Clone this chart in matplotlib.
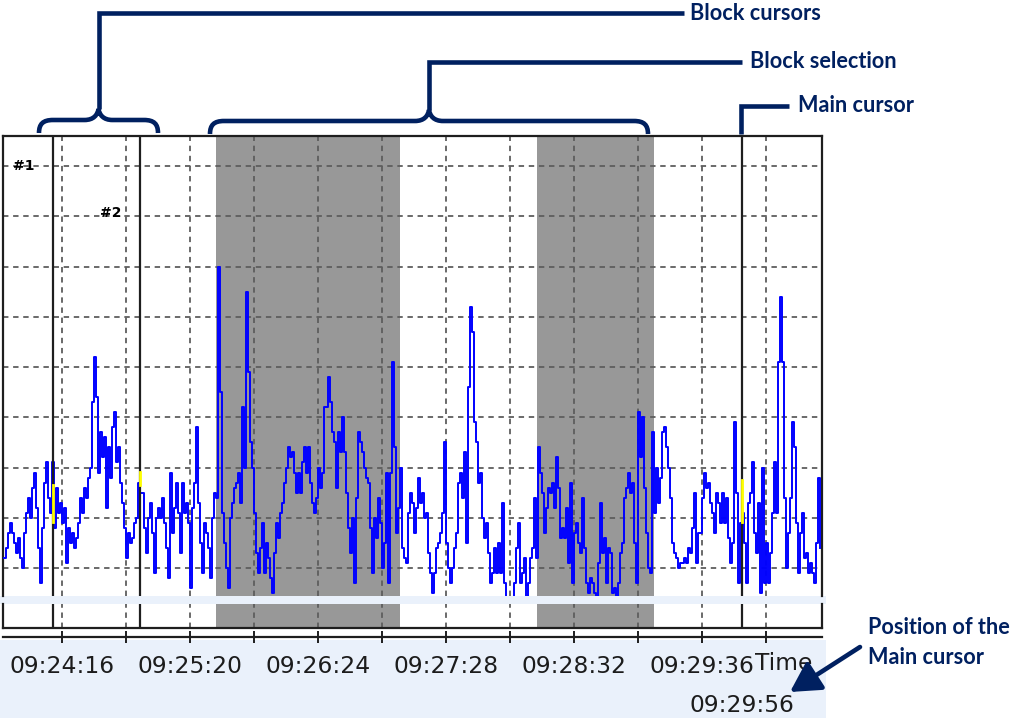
import matplotlib.pyplot as plt
import numpy as np
from matplotlib.patches import PathPatch, Rectangle
from matplotlib.path import Path
from matplotlib.transforms import blended_transform_factory


def hms(text):
    h, m, s = (float(p) for p in text.split(":"))
    return h * 3600 + m * 60 + s


def clock(seconds):
    seconds = int(round(seconds))
    return f"{seconds // 3600:02d}:{seconds % 3600 // 60:02d}:{seconds % 60:02d}"


# one sample per second
start_time = "09:23:47"
signal = [
    8, 10, 13, 15, 13, 11, 9, 12, 8, 6, 13, 17, 20, 16, 22, 25, 18, 10, 3, 14,
    23, 27, 20, 17, 27,
    14, 22, 17, 19, 15, 18, 7, 14, 11, 13, 10, 12, 15, 20, 17, 22, 20, 24, 26, 39,
    48, 40, 25, 33, 28, 32, 18, 30, 24, 34, 37, 27, 30, 23, 19, 14, 8, 13, 11, 12,
    15, 16, 23, 21,
    21, 14, 9, 16, 19, 13, 5, 16, 18, 16, 20, 15, 10, 4, 25, 13, 18, 23, 17, 9,
    23, 17, 19, 15, 2, 18, 23, 34, 19, 11, 5, 15, 13, 10, 4, 16, 21,
    20, 66, 41, 17, 11, 6, 2, 16, 19, 22, 23, 25, 19, 38, 26, 61, 45, 31, 26, 17,
    9, 5, 10, 15, 5, 11, 8, 4, 1, 9, 15, 12, 17, 19, 23, 26, 30, 28, 29, 25,
    21, 25, 21, 27, 30, 25, 30, 23, 19, 17, 20, 26, 22, 25, 38, 38, 44, 39, 33, 31,
    22, 33, 29, 36, 29, 21, 14, 9, 16, 3, 20, 33, 31, 29, 26, 24, 23, 14, 5, 16,
    12, 20, 15, 6, 11, 25, 3, 25, 47, 30, 13, 18, 26,
    10, 8, 7, 17, 21, 19, 13, 18, 24, 19, 21, 16, 17, 9, 5, 1, 5, 10, 11, 13,
    17, 31, 11, 6, 3, 6, 10, 13, 23, 25, 20, 29, 11, 42, 58, 53, 35, 31, 23, 25,
    16, 12, 15, 9, 3, 5, 10, 5, 11, 5, 19, 3, 0, 0, 0, 0, 3, 10, 15, 3,
    5, 8, 0, 3, 8, 10, 20, 8,
    30, 25, 21, 13, 18, 22, 21, 23, 18, 28, 22, 12, 14, 12, 18, 7, 23, 3, 13, 15,
    11, 9, 20, 10, 3, 1, 4, 3, 1, 0, 7, 19, 9, 12, 3, 10, 9, 1, 2, 0,
    3, 9, 11, 20, 22, 25, 21, 23, 11, 3, 37, 28, 36, 22, 13, 6, 5, 33, 17,
    26, 19, 24, 33, 34, 30, 26, 20, 11, 9, 8, 6, 7, 7, 8, 7, 10, 9, 14, 21,
    7, 13, 13, 20, 25, 22, 23, 19, 17, 13, 21, 19, 15, 21, 15, 20, 12, 7, 11, 35,
    21, 3, 15,
    17, 11, 3, 19, 21, 27, 13, 9, 19, 1, 26, 3, 11, 3, 9, 17, 27, 17, 47, 60,
    47, 20, 6, 13, 20, 35, 30, 15, 5, 13, 17, 8, 9, 5, 7, 5, 3, 11, 24, 10,
]

view_start = "09:23:46.5"
view_end = "09:30:36"
first_grid = "09:24:16"
grid_step = 32
grid_count = 12
value_range = (0.43, 91.97)
value_grid = np.arange(6, 87, 10)

block_cursors = ["09:24:11.5", "09:24:55"]
main_cursor = "09:29:56"
selections = [("09:25:33", "09:27:05"), ("09:28:13.5", "09:29:12")]
# value read-out marks on the cursors (block 1, block 2, main)
cursor_marks = [(15.2, 22.5), (22.5, 25.1), (15.2, 23.5)]

navy = "#002060"
shade = "#989898"
panel_blue = "#eaf1fb"
grid_color = "#5e5e5e"
frame_color = "#1e1e1e"
dashes = (0, (3, 2.6))

W, H = 1013, 718


def fig_rect(x0, y0, x1, y1):
    return [x0 / W, 1 - y1 / H, (x1 - x0) / W, (y1 - y0) / H]


times = hms(start_time) + np.arange(len(signal))
t0, t1 = hms(view_start), hms(view_end)
grid_times = hms(first_grid) + grid_step * np.arange(grid_count)
cursor_times = [hms(t) for t in block_cursors] + [hms(main_cursor)]

fig = plt.figure(figsize=(W / 100, H / 100), dpi=100)

bg = fig.add_axes([0, 0, 1, 1], zorder=-5)
bg.set_xlim(0, W)
bg.set_ylim(H, 0)
bg.axis("off")
bg.add_patch(Rectangle((0, 596), 826, 8, color=panel_blue, lw=0))
bg.add_patch(Rectangle((0, 640), 826, H - 640, color=panel_blue, lw=0))

ax = fig.add_axes(fig_rect(3, 136, 822, 596))
ax_low = fig.add_axes(fig_rect(3, 604, 822, 628))

for axis in (ax, ax_low):
    axis.set_xlim(t0, t1)
    axis.set_xticks(grid_times)
    axis.tick_params(length=0, labelbottom=False, labelleft=False)
    axis.xaxis.grid(True, color=grid_color, linestyle=dashes, lw=1.3)
    for start, end in selections:
        axis.axvspan(hms(start), hms(end), color=shade, lw=0, zorder=1)
    for t in cursor_times:
        axis.axvline(t, color=frame_color, lw=1.6, zorder=4)
    for side in axis.spines.values():
        side.set_color(frame_color)
        side.set_linewidth(1.6)

ax.spines["bottom"].set_visible(False)
ax_low.spines["top"].set_visible(False)

ax.set_ylim(*value_range)
ax.set_yticks(value_grid)
ax.yaxis.grid(True, color=grid_color, linestyle=dashes, lw=1.3)
ax_low.set_yticks([])

ax.plot(times, signal, color="#0000ff", lw=1.4, drawstyle="steps-post", zorder=3)

for t, (lo, hi) in zip(cursor_times, cursor_marks):
    ax.plot([t, t], [lo, hi], color="#ffff00", lw=2.0, zorder=5)

ax.text(cursor_times[0] - 20, 86, "#1", fontsize=10, fontweight="bold",
        ha="left", va="center")
ax.text(cursor_times[1] - 20, 76.6, "#2", fontsize=10, fontweight="bold",
        ha="left", va="center")

# time axis under the panels
ax_time = fig.add_axes(fig_rect(3, 610, 822, 637))
ax_time.patch.set_visible(False)
ax_time.set_xlim(t0, t1)
ax_time.set_yticks([])
for name in ("top", "left", "right"):
    ax_time.spines[name].set_visible(False)
ax_time.spines["bottom"].set_color(frame_color)
ax_time.spines["bottom"].set_linewidth(1.6)
ax_time.set_xticks(grid_times)
ax_time.set_xticklabels([clock(t) if i % 2 == 0 else "" for i, t in enumerate(grid_times)])
ax_time.tick_params(axis="x", direction="inout", length=8, width=1.4, pad=9,
                    labelsize=16.8, labelcolor="#1c1c1c", color=frame_color)

label_tf = blended_transform_factory(ax_time.transData, fig.transFigure)
ax_time.text(grid_times[-2] + 26.5, 1 - 664 / H, "Time", transform=label_tf,
             fontsize=16.8, color="#1c1c1c", ha="left", va="center")
ax_time.text(hms(main_cursor), 1 - 705 / H, clock(hms(main_cursor)), transform=label_tf,
             fontsize=16.8, color="#1c1c1c", ha="center", va="center")

# callouts
ov = fig.add_axes([0, 0, 1, 1], zorder=10)
ov.set_xlim(0, W)
ov.set_ylim(H, 0)
ov.axis("off")
ov.patch.set_visible(False)

line_kw = dict(color=navy, lw=3.3, solid_joinstyle="miter", solid_capstyle="butt")
text_kw = dict(color=navy, fontsize=15.6, fontweight="bold", family="Lato",
               va="center", ha="left")


def brace(x0, x1, y_bar, top, x_end):
    xc = (x0 + x1) / 2
    verts = [
        (x0, y_bar + 13), (x0, y_bar + 4), (x0 + 4, y_bar), (x0 + 14, y_bar),
        (xc - 14, y_bar),
        (xc - 5, y_bar), (xc - 1, y_bar - 5), (xc, y_bar - 11),
        (xc + 1, y_bar - 5), (xc + 5, y_bar), (xc + 14, y_bar),
        (x1 - 14, y_bar),
        (x1 - 4, y_bar), (x1, y_bar + 4), (x1, y_bar + 13),
    ]
    codes = [Path.MOVETO, Path.CURVE4, Path.CURVE4, Path.CURVE4, Path.LINETO,
             Path.CURVE4, Path.CURVE4, Path.CURVE4,
             Path.CURVE4, Path.CURVE4, Path.CURVE4, Path.LINETO,
             Path.CURVE4, Path.CURVE4, Path.CURVE4]
    ov.add_patch(PathPatch(Path(verts, codes), fill=False, edgecolor=navy, lw=3.3,
                           capstyle="butt"))
    ov.plot([xc, xc, x_end], [y_bar - 11, top, top], **line_kw)


brace(39, 158, 120, 13, 684)
ov.text(690, 13, "Block cursors", **text_kw)

brace(210, 648, 121, 62, 742)
ov.text(750, 62, "Block selection", **text_kw)

ov.plot([741, 741, 789], [134, 106, 106], **line_kw)
ov.text(798, 105, "Main cursor", **text_kw)

ov.annotate("", xy=(790, 692), xytext=(860, 647),
            arrowprops=dict(arrowstyle="-|>,head_length=0.9,head_width=0.5",
                            lw=3.3, color=navy, mutation_scale=20,
                            shrinkA=0, shrinkB=0))
ov.text(868, 627, "Position of the", **text_kw)
ov.text(868, 657, "Main cursor", **text_kw)

fig.savefig("out.png", dpi=100)
